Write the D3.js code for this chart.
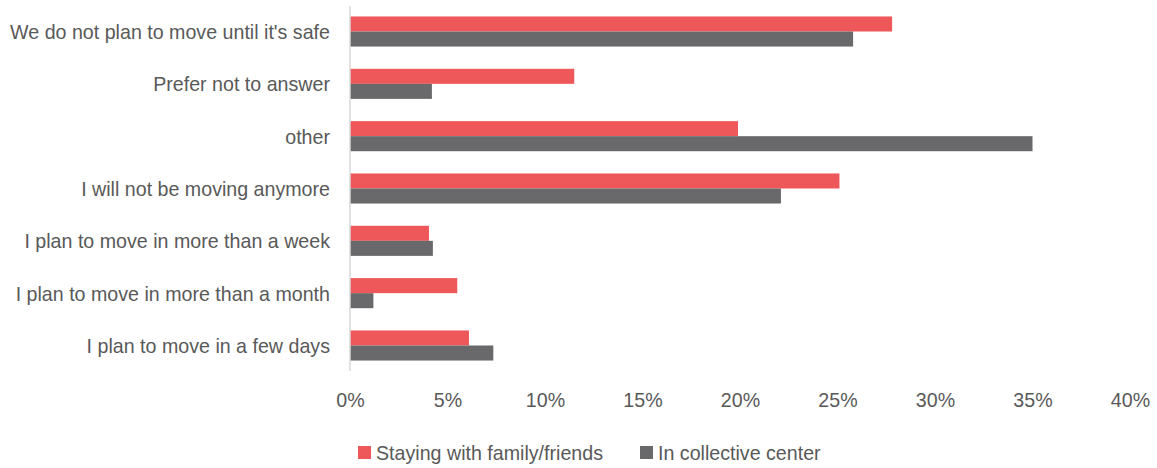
<!DOCTYPE html>
<html>
<head>
<meta charset="utf-8">
<script src="https://cdn.jsdelivr.net/npm/d3@7"></script>
<style>
  html, body { margin: 0; padding: 0; background: #fff; }
  text { font-family: "Liberation Sans", Arial, sans-serif; fill: #595959; }
</style>
</head>
<body>
<svg id="chart" width="1157" height="468"></svg>
<script>
// Survey answers, listed top to bottom
const categories = [
  "We do not plan to move until it's safe",
  "Prefer not to answer",
  "other",
  "I will not be moving anymore",
  "I plan to move in more than a week",
  "I plan to move in more than a month",
  "I plan to move in a few days"
];
const seriesNames = ["Staying with family/friends", "In collective center"];
const familyFriends = [27.8, 11.5, 19.9, 25.1, 4.05, 5.5, 6.1];
const collectiveCenter = [25.8, 4.2, 35.0, 22.1, 4.25, 1.2, 7.35];
const tickValues = [0, 5, 10, 15, 20, 25, 30, 35, 40];
const colors = ["#EF585A", "#69696B"];

const svg = d3.select("#chart");
const plot = { left: 350, right: 1130, top: 6, bottom: 371 };
const fontSize = "21px";
const squeeze = 0.935; // slightly narrow lettering

// Narrow each text run horizontally while keeping its anchor
function condense(sel) {
  sel.each(function () {
    const len = this.getComputedTextLength();
    d3.select(this).attr("textLength", len * squeeze).attr("lengthAdjust", "spacingAndGlyphs");
  });
}

const x = d3.scaleLinear().domain([0, 40]).range([plot.left, plot.right]);
const y = d3.scaleBand().domain(categories).range([plot.top, plot.bottom])
  .paddingInner(0.425).paddingOuter(0.2);
const sub = d3.scaleBand().domain(seriesNames).range([0, y.bandwidth()]);

const rows = categories.map((c, i) => ({
  cat: c,
  vals: [familyFriends[i], collectiveCenter[i]]
}));

// Bars
const g = svg.append("g");
rows.forEach(r => {
  r.vals.forEach((v, j) => {
    g.append("rect")
      .attr("x", x(0))
      .attr("y", y(r.cat) + sub(seriesNames[j]))
      .attr("width", x(v) - x(0))
      .attr("height", sub.bandwidth())
      .attr("fill", colors[j]);
  });
});

// Vertical axis line
svg.append("line")
  .attr("x1", x(0)).attr("x2", x(0))
  .attr("y1", plot.top).attr("y2", plot.bottom)
  .attr("stroke", "#d9d9d9").attr("stroke-width", 1.5);

// Category labels
svg.append("g").selectAll("text").data(categories).join("text")
  .attr("x", 330)
  .attr("y", d => y(d) + y.bandwidth() / 2)
  .attr("dy", "0.35em")
  .attr("text-anchor", "end")
  .style("font-size", fontSize)
  .text(d => d)
  .call(condense);

// Bottom tick labels
const xAxis = d3.axisBottom(x).tickValues(tickValues)
  .tickFormat(d => d + "%").tickSize(0).tickPadding(0);
const ax = svg.append("g").attr("transform", `translate(0,${plot.bottom})`).call(xAxis);
ax.select(".domain").remove();
ax.selectAll("text")
  .attr("y", 29)
  .attr("dy", "0.35em")
  .style("font-size", fontSize)
  .style("font-family", "'Liberation Sans', Arial, sans-serif")
  .attr("fill", "#595959")
  .call(condense);

// Legend
const legendItems = [
  { name: seriesNames[0], color: colors[0], x: 358 },
  { name: seriesNames[1], color: colors[1], x: 640 }
];
const lg = svg.append("g");
legendItems.forEach(it => {
  lg.append("rect").attr("x", it.x).attr("y", 446).attr("width", 13).attr("height", 13)
    .attr("fill", it.color);
  lg.append("text").attr("x", it.x + 18).attr("y", 452.5).attr("dy", "0.35em")
    .style("font-size", fontSize).text(it.name)
    .call(condense);
});
</script>
</body>
</html>
